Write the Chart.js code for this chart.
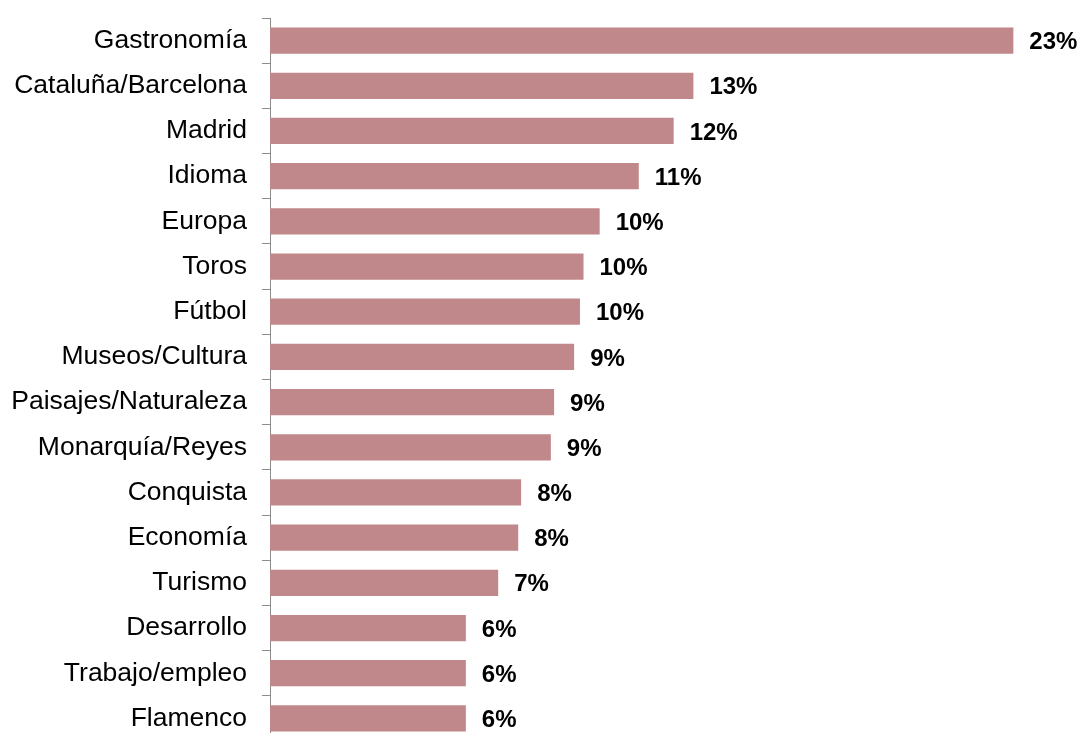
<!DOCTYPE html>
<html>
<head>
<meta charset="utf-8">
<script src="https://cdn.jsdelivr.net/npm/chart.js@4"></script>
<style>
  html, body { margin: 0; padding: 0; background: #fff; overflow: hidden; }
  #wrap { width: 1080px; height: 741px; }
</style>
</head>
<body>
<div id="wrap"><canvas id="temasChart"></canvas></div>
<script>
// =============================
// Datos
// =============================
const categorias = ['Gastronomía', 'Cataluña/Barcelona', 'Madrid', 'Idioma', 'Europa', 'Toros', 'Fútbol',
  'Museos/Cultura', 'Paisajes/Naturaleza', 'Monarquía/Reyes', 'Conquista', 'Economía', 'Turismo',
  'Desarrollo', 'Trabajo/empleo', 'Flamenco'];
const porcentajes = [23.0, 13.1, 12.49, 11.41, 10.2, 9.7, 9.59, 9.41, 8.79, 8.69, 7.77, 7.68, 7.06, 6.06, 6.06, 6.06];

// etiquetas de valor al final de cada barra
const etiquetasValor = {
  id: 'etiquetasValor',
  afterDatasetsDraw(chart) {
    const c = chart.ctx;
    const meta = chart.getDatasetMeta(0);
    c.save();
    c.font = 'bold 24px "Liberation Sans", Arial, sans-serif';
    c.fillStyle = '#000';
    c.textBaseline = 'middle';
    meta.data.forEach((bar, i) => {
      c.fillText(Math.round(porcentajes[i]) + '%', bar.x + 16, bar.y + 2);
    });
    c.restore();
  }
};

const ctx = document.getElementById('temasChart');
new Chart(ctx, {
  type: 'bar',
  data: {
    labels: categorias,
    datasets: [{
      data: porcentajes,
      backgroundColor: '#C0888A',
      borderWidth: 0,
      barPercentage: 0.58,
      categoryPercentage: 1
    }]
  },
  options: {
    indexAxis: 'y',
    responsive: true,
    maintainAspectRatio: false,
    animation: false,
    layout: { padding: { top: 18, right: 2, bottom: 0, left: 0 } },
    plugins: {
      legend: { display: false },
      tooltip: { enabled: false }
    },
    scales: {
      x: { display: false, min: 0, max: 25 },
      y: {
        afterFit(scale) {
          scale.width = 270;
          scale.paddingTop = 0;
          scale.paddingBottom = 0;
        },
        border: { display: true, color: '#8c8c8c', width: 1 },
        grid: {
          display: true,
          drawOnChartArea: false,
          offset: true,
          tickLength: 8,
          color: '#8c8c8c'
        },
        ticks: {
          color: '#000',
          padding: 15,
          font: { family: '"Liberation Sans", Arial, sans-serif', size: 26.5 }
        }
      }
    }
  },
  plugins: [etiquetasValor]
});
</script>
</body>
</html>
